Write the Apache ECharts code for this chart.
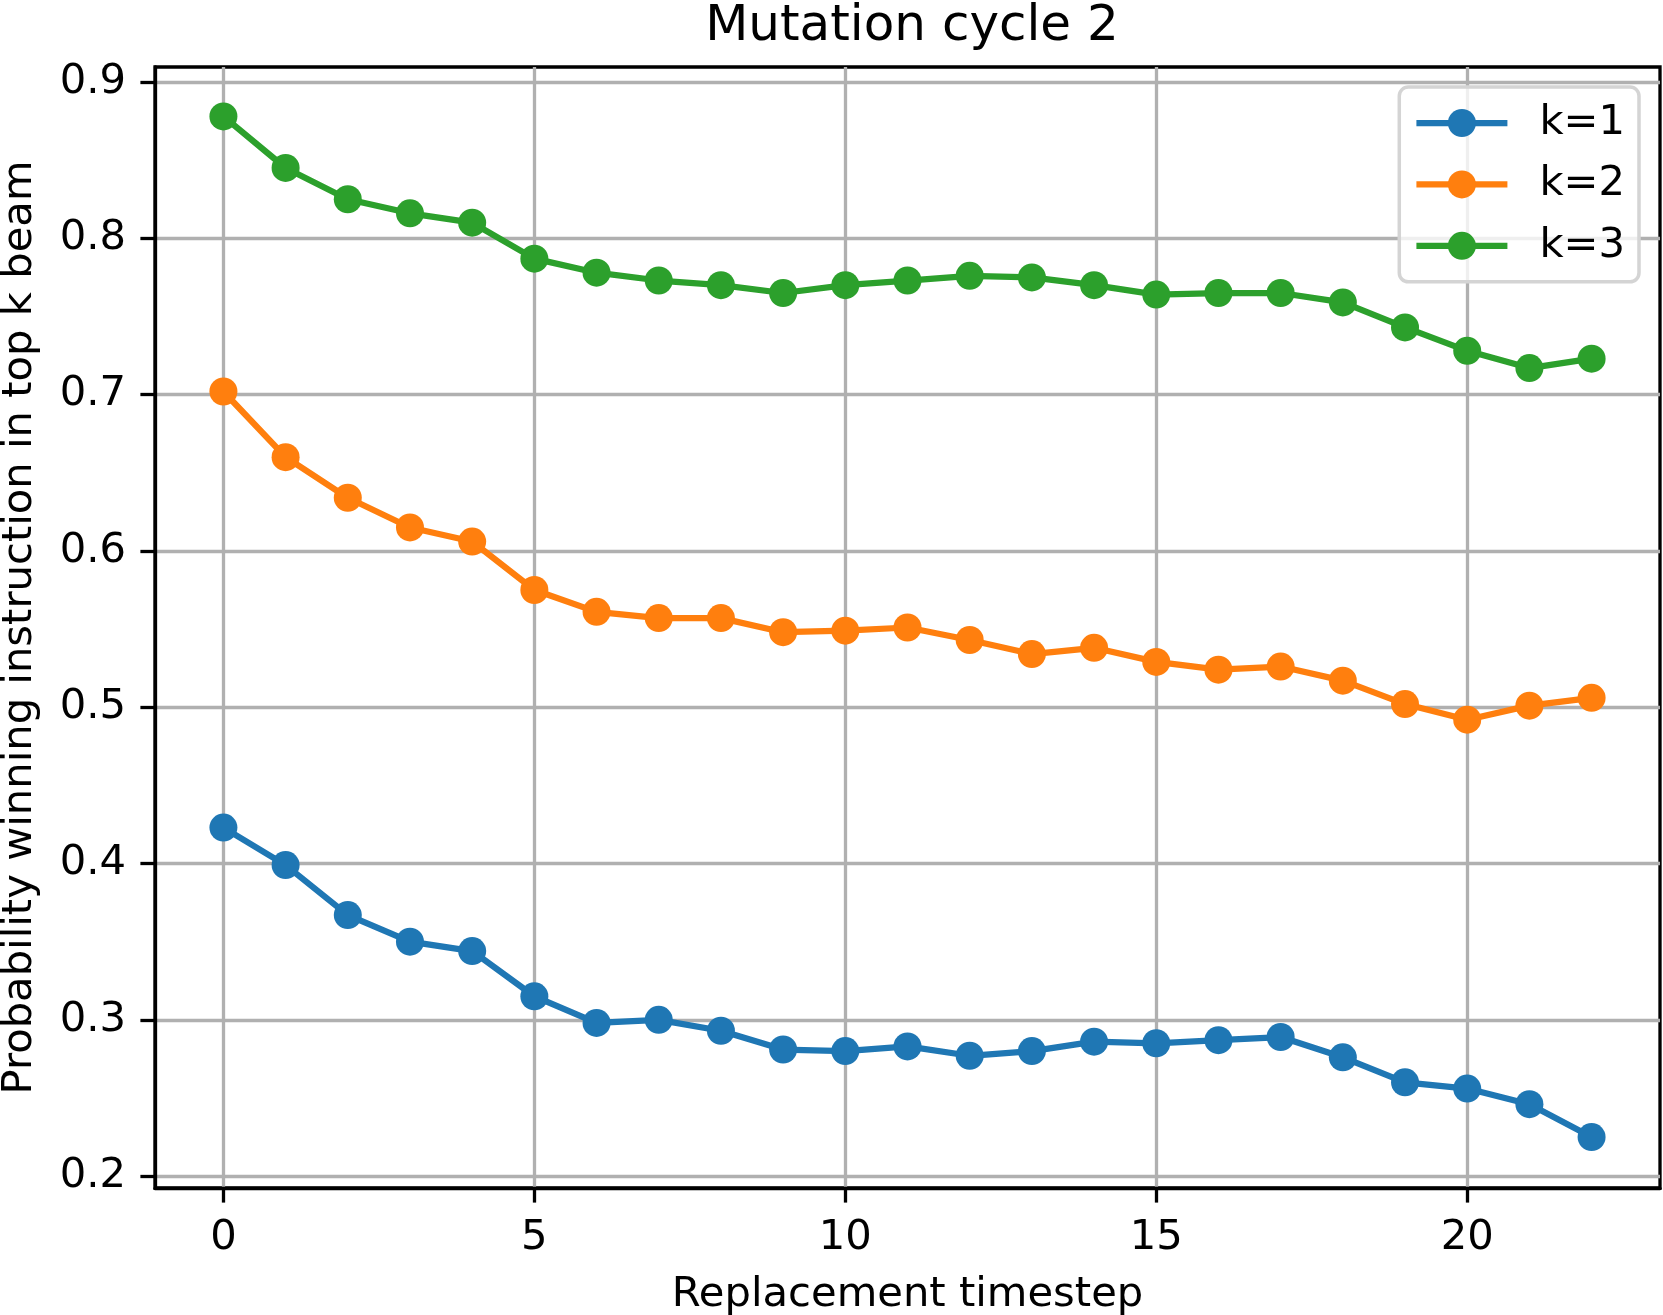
<!DOCTYPE html>
<html>
<head>
<meta charset="utf-8">
<script src="https://cdn.jsdelivr.net/npm/echarts@6/dist/echarts.min.js"></script>
<style>html,body{margin:0;padding:0;background:#fff;}#c{width:1663px;height:1315px;}</style>
</head>
<body>
<div id="c"></div>
<script>
const timesteps = [0,1,2,3,4,5,6,7,8,9,10,11,12,13,14,15,16,17,18,19,20,21,22];
const k1 = [0.423,0.399,0.367,0.350,0.344,0.315,0.298,0.300,0.293,0.281,0.280,0.283,0.277,0.280,0.286,0.285,0.287,0.289,0.276,0.260,0.256,0.246,0.225];
const k2 = [0.702,0.660,0.634,0.615,0.606,0.575,0.561,0.557,0.557,0.548,0.549,0.551,0.543,0.534,0.538,0.529,0.524,0.526,0.517,0.502,0.492,0.501,0.506];
const k3 = [0.878,0.845,0.825,0.816,0.810,0.787,0.778,0.773,0.770,0.765,0.770,0.773,0.776,0.775,0.770,0.764,0.765,0.765,0.759,0.743,0.728,0.717,0.723];
const seriesNames = ['k=1','k=2','k=3'];
const xTicks = [0,5,10,15,20];
const yTicks = [0.2,0.3,0.4,0.5,0.6,0.7,0.8,0.9];

const colors = ['#1f77b4','#ff7f0e','#2ca02c'];
const FONT = 'DejaVu Sans';
const chart = echarts.init(document.getElementById('c'), null, {renderer:'canvas'});
const allSeries = [k1,k2,k3].map((vals, si) => ({
  name: seriesNames[si],
  type: 'line',
  data: timesteps.map((x,i)=>[x, vals[i]]),
  symbol: 'circle',
  symbolSize: 28,
  showSymbol: true,
  lineStyle: {width: 6.25, color: colors[si]},
  itemStyle: {color: colors[si]},
  emphasis: {disabled: true},
  animation: false,
  z: 3
}));
chart.setOption({
  animation: false,
  backgroundColor: '#fff',
  title: {
    text: 'Mutation cycle 2',
    left: 907, top: -3, textAlign: 'center',
    textStyle: {fontFamily: FONT, fontSize: 50, fontWeight: 'normal', color: '#000'}
  },
  legend: {
    orient: 'vertical',
    right: 24, top: 87,
    itemWidth: 91, itemHeight: 35, itemGap: 19.4,
    padding: [15, 14, 15, 14],
    backgroundColor: 'rgba(255,255,255,0.8)',
    borderColor: '#d4d4d4', borderWidth: 3.5, borderRadius: 9,
    lineStyle: {width: 6.25},
    textStyle: {fontFamily: FONT, fontSize: 41.7, color: '#000', padding: [0,0,0,27]},
    data: seriesNames
  },
  grid: {
    left: 155, right: 3, top: 67, bottom: 127,
    outerBoundsMode: 'none', containLabel: false,
    show: true, borderColor: '#000', borderWidth: 3.3, backgroundColor: 'transparent'
  },
  xAxis: {
    type: 'value', min: -1.1, max: 23.1,
    name: 'Replacement timestep', nameLocation: 'middle', nameGap: 86,
    nameTextStyle: {fontFamily: FONT, fontSize: 41.7, color: '#000'},
    axisLine: {show: true, onZero: false, lineStyle: {color: '#000', width: 3.3}},
    axisTick: {show: true, customValues: xTicks, length: 14.6, lineStyle: {color: '#000', width: 3.3}},
    axisLabel: {customValues: xTicks, margin: 29, fontFamily: FONT, fontSize: 41.7, color: '#000'},
    splitLine: {show: true, lineStyle: {color: '#b0b0b0', width: 3.3}}
  },
  yAxis: {
    type: 'value', min: 0.1924, max: 0.9096,
    name: 'Probability winning instruction in top k beam', nameLocation: 'middle', nameGap: 114,
    nameTextStyle: {fontFamily: FONT, fontSize: 41.7, color: '#000'},
    axisLine: {show: true, onZero: false, lineStyle: {color: '#000', width: 3.3}},
    axisTick: {show: true, customValues: yTicks, length: 14.6, lineStyle: {color: '#000', width: 3.3}},
    axisLabel: {customValues: yTicks, margin: 29, fontFamily: FONT, fontSize: 41.7, color: '#000',
      formatter: v => v.toFixed(1)},
    splitLine: {show: true, lineStyle: {color: '#b0b0b0', width: 3.3}}
  },
  series: allSeries
});
</script>
</body>
</html>
